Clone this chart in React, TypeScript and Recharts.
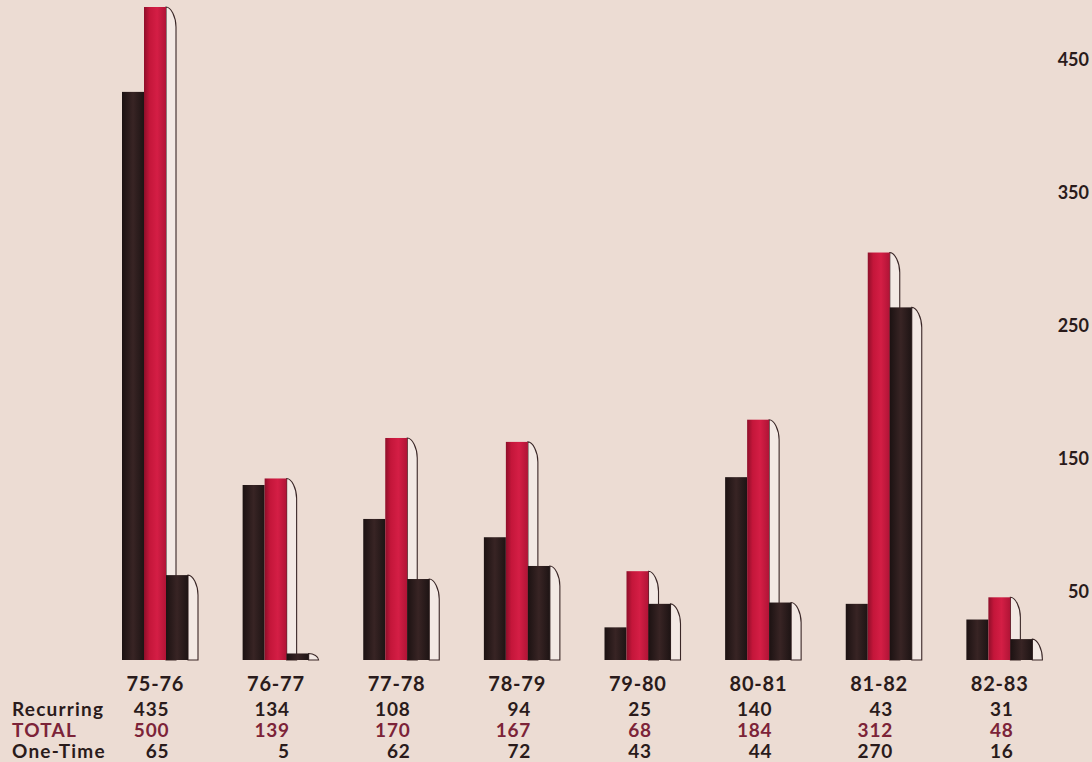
import React from 'react';
import { BarChart, Bar, XAxis, YAxis } from 'recharts';

const categories = ['75-76', '76-77', '77-78', '78-79', '79-80', '80-81', '81-82', '82-83'];
const recurring = [435, 134, 108, 94, 25, 140, 43, 31];
const total = [500, 139, 170, 167, 68, 184, 312, 48];
const oneTime = [65, 5, 62, 72, 43, 44, 270, 16];
const rowLabels = ['Recurring', 'TOTAL', 'One-Time'];
const rightTicks = [50, 150, 250, 350, 450];

const data = categories.map((c, i) => ({
  cat: c,
  recurring: recurring[i],
  total: total[i],
  oneTime: oneTime[i],
}));

const BG = '#ecdcd3';
const DARK = '#2a1b1b';
const MAROON = '#7c2338';
const FONT = 'Lato, "Open Sans", sans-serif';

const plainShape = (gradId: string) => (props: any) => {
  const { x, y, width, height } = props;
  if (!height || height <= 0) return <g />;
  return <rect x={x} y={y} width={width} height={height} fill={`url(#${gradId})`} />;
};

const shadowShape = (gradId: string) => (props: any) => {
  const { x, y, width, height } = props;
  if (!height || height <= 0) return <g />;
  const s = 10;
  const d = Math.min(20, height);
  const r = x + width;
  const path = `M${r},${y} C${r + s * 0.5},${y} ${r + s},${y + d * 0.5} ${r + s},${y + d} L${r + s},${y + height} L${r},${y + height} Z`;
  return (
    <g>
      <path d={path} fill="#f3e9e4" stroke="#3a2727" strokeWidth={1.1} />
      <rect x={x} y={y} width={width} height={height} fill={`url(#${gradId})`} />
    </g>
  );
};

const FS = 19;

const CategoryTick = (props: any) => {
  const { x, y, payload, index } = props;
  const i = index;
  const vx = x + 14;
  return (
    <g fontFamily={FONT} fontWeight={700} letterSpacing={0.8}>
      <text x={x} y={y + 31} textAnchor="middle" fontSize={FS + 1} fill={DARK}>
        {payload.value}
      </text>
      <text x={vx} y={y + 56} textAnchor="end" fontSize={FS} fill={DARK}>
        {recurring[i]}
      </text>
      <text x={vx} y={y + 77} textAnchor="end" fontSize={FS} fill={MAROON}>
        {total[i]}
      </text>
      <text x={vx} y={y + 98} textAnchor="end" fontSize={FS} fill={DARK}>
        {oneTime[i]}
      </text>
      {i === 0 && (
        <g letterSpacing={1.2}>
          <text x={12} y={y + 56} fontSize={FS} fill={DARK}>{rowLabels[0]}</text>
          <text x={12} y={y + 77} fontSize={FS} fill={MAROON}>{rowLabels[1]}</text>
          <text x={12} y={y + 98} fontSize={FS} fill={DARK}>{rowLabels[2]}</text>
        </g>
      )}
    </g>
  );
};

const RightTick = (props: any) => {
  const { y, payload } = props;
  return (
    <text x={1089} y={y} dy={6} textAnchor="end" fontFamily={FONT} fontWeight={700} fontSize={18} fill={DARK}>
      {payload.value}
    </text>
  );
};

export default function App() {
  return (
    <div style={{ position: 'absolute', left: 0, top: 0, width: 1092, height: 762, background: BG }}>
      <BarChart
        width={1092}
        height={762}
        data={data}
        margin={{ top: 7, right: 0, bottom: 0, left: 95 }}
        barSize={22}
        barGap={0}
      >
        <defs>
          <linearGradient id="redGrad" x1="0" y1="0" x2="1" y2="0">
            <stop offset="0%" stopColor="#8e0f2a" />
            <stop offset="25%" stopColor="#c4163a" />
            <stop offset="60%" stopColor="#d41e45" />
            <stop offset="100%" stopColor="#b01436" />
          </linearGradient>
          <linearGradient id="darkGrad" x1="0" y1="0" x2="1" y2="0">
            <stop offset="0%" stopColor="#1c1212" />
            <stop offset="50%" stopColor="#382424" />
            <stop offset="100%" stopColor="#1e1414" />
          </linearGradient>
        </defs>
        <XAxis
          dataKey="cat"
          xAxisId="x"
          height={102}
          axisLine={false}
          tickLine={false}
          tickSize={0}
          tickMargin={0}
          interval={0}
          tick={<CategoryTick />}
        />
        <YAxis yAxisId="left" domain={[0, 500]} hide />
        <YAxis
          yAxisId="right"
          orientation="right"
          width={32}
          domain={[-1.1, 489.8]}
          ticks={rightTicks}
          axisLine={false}
          tickLine={false}
          tick={<RightTick />}
          allowDataOverflow
        />
        <Bar xAxisId="x" yAxisId="left" dataKey="recurring" isAnimationActive={false} shape={plainShape('darkGrad')} />
        <Bar xAxisId="x" yAxisId="left" dataKey="total" isAnimationActive={false} shape={shadowShape('redGrad')} />
        <Bar xAxisId="x" yAxisId="left" dataKey="oneTime" isAnimationActive={false} shape={shadowShape('darkGrad')} />
      </BarChart>
    </div>
  );
}
